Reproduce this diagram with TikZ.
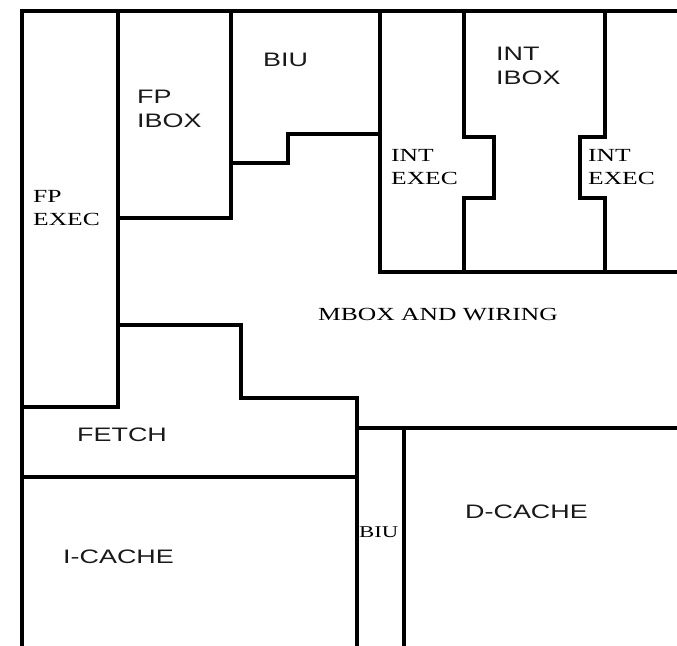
\documentclass[tikz,border=0pt]{standalone}
\usepackage{fontspec}
\newfontfamily\sansf[FakeStretch=1.38]{Liberation Sans}
\newfontfamily\serf[FakeStretch=1.38]{Liberation Serif}
\begin{document}
\begin{tikzpicture}[x=1pt,y=-1pt,
  wall/.style={line width=3.5pt,line cap=rect,line join=miter,draw=black},
  sanslbl/.style={inner sep=0pt,anchor=north west,align=left,text=black!90,font=\sansf\fontsize{19.5}{23.5}\selectfont},
  seriflbl/.style={inner sep=0pt,anchor=north west,align=left,text=black,font=\serf\fontsize{18.5}{23}\selectfont}]
\useasboundingbox (0,0) rectangle (677,645);
% outer walls
\draw[wall] (22,645) -- (22,11) -- (677,11);
% FP EXEC
\draw[wall] (118,11) -- (118,407);
\draw[wall] (22,407) -- (118,407);
% FP IBOX
\draw[wall] (118,218) -- (231,218) -- (231,11);
% BIU step
\draw[wall] (231,163) -- (288,163) -- (288,134) -- (380,134);
% INT block
\draw[wall] (380,11) -- (380,272) -- (677,272);
\draw[wall] (464,11) -- (464,137) -- (494,137) -- (494,198) -- (464,198) -- (464,272);
\draw[wall] (605,11) -- (605,137) -- (580,137) -- (580,198) -- (605,198) -- (605,272);
% MBOX lower boundary
\draw[wall] (118,325) -- (241,325) -- (241,398) -- (357,398) -- (357,428) -- (677,428);
% FETCH / I-CACHE
\draw[wall] (22,477) -- (357,477);
% BIU bottom
\draw[wall] (357,398) -- (357,645);
\draw[wall] (404,428) -- (404,645);
% labels
\node[sanslbl] (biut) at (263,53) {BIU};
\node[sanslbl] (fpibox) at (137,90) {FP\\IBOX};
\node[seriflbl] (fpexec) at (33,190) {FP\\EXEC};
\node[sanslbl] (intibox) at (496,47) {INT\\IBOX};
\node[seriflbl] (intexec1) at (391,149) {INT\\EXEC};
\node[seriflbl] (intexec2) at (588,149) {INT\\EXEC};
\node[seriflbl] (mbox) at (318,308) {MBOX AND WIRING};
\node[sanslbl] (fetch) at (77,428) {FETCH};
\node[sanslbl] (icache) at (63,550) {I-CACHE};
\node[seriflbl,font=\serf\fontsize{16.5}{20}\selectfont] (biub) at (359,526) {BIU};
\node[sanslbl] (dcache) at (465,505) {D-CACHE};
\end{tikzpicture}
\end{document}
